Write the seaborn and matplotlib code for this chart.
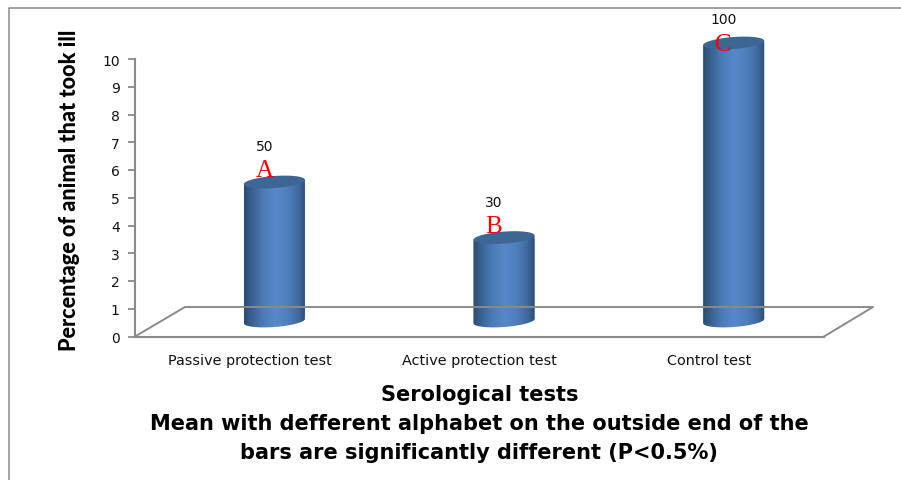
import numpy as np
import pandas as pd
import seaborn as sns
import matplotlib.pyplot as plt
from matplotlib.colors import LinearSegmentedColormap
from matplotlib.lines import Line2D
from matplotlib.patches import Polygon

tests = ['Passive protection test', 'Active protection test', 'Control test']
values = [5, 3, 10]
value_labels = ['50', '30', '100']
letters = ['A', 'B', 'C']
y_ticks = [0, 1, 2, 3, 4, 5, 6, 7, 8, 9, 10]

W, H = 901, 481
GRAY = '#8a8a8a'
PX = 27.8  # pixels per unit on the value axis

sns.set_style('white')
plt.rcParams['font.family'] = ['DejaVu Sans']

fig = plt.figure(figsize=(W / 100, H / 100), dpi=100)

# outer frame, open on the right and at the bottom
fig.add_artist(Line2D([8.5 / W, 8.5 / W, 1], [0, 1 - 9 / H, 1 - 9 / H], color=GRAY, lw=1.1))

# front axes: ticks, category labels
ax = fig.add_axes([135 / W, 1 - 337.5 / H, 689 / W, 277.5 / H])
ax.set_facecolor('none')
df = pd.DataFrame({'test': tests, 'value': values})
sns.barplot(data=df, x='test', y='value', ax=ax, alpha=0)
ax.set_xlim(-0.5, 2.5)
ax.set_ylim(0, 10)
ax.set_yticks(y_ticks)
ax.tick_params(axis='y', length=5, width=1.3, color=GRAY, labelsize=10, pad=6, left=True, labelcolor='#111111')
ax.tick_params(axis='x', length=0, labelsize=10.4, pad=12, labelcolor='#111111')
sns.despine(ax=ax, top=True, right=True)
for s in ['left', 'bottom']:
    ax.spines[s].set_color(GRAY)
    ax.spines[s].set_linewidth(1.5)
ax.set_ylabel('Percentage of animal that took ill', fontfamily='Lato', fontweight='black',
              fontsize=15.6, labelpad=16, y=0.53, color='black')
ax.set_xlabel('Serological tests', fontfamily='DejaVu Sans', fontweight='bold', fontsize=15,
              labelpad=12, color='black')

# floor of the 3D box
floor = [(135, 337.5), (185, 308), (873, 308), (824, 337.5)]
fig.add_artist(Line2D([p[0] / W for p in floor], [1 - p[1] / H for p in floor], color=GRAY, lw=1.4))

# bars sit half way into the floor, so their axes are shifted
top_v, bot_v = 11.5, -1
ax2 = fig.add_axes([159.5 / W, 1 - (322 - bot_v * PX) / H, 689 / W, (top_v - bot_v) * PX / H])
ax2.set_facecolor('none')
sns.barplot(data=df, x='test', y='value', ax=ax2, color='#5585c5', width=0.266, saturation=1)
ax2.set_xlim(-0.5, 2.5)
ax2.set_ylim(bot_v, top_v)
ax2.axis('off')

cyl = LinearSegmentedColormap.from_list('cyl', [(0, '#2b4a72'), (0.12, '#37608f'), (0.32, '#4c7cb8'),
                                                (0.5, '#5787c8'), (0.7, '#4f80bd'), (0.88, '#3f6a9d'),
                                                (1, '#2d4c74')])
grad = np.linspace(0, 1, 256).reshape(1, -1)
ry = 6 / PX
tilt = 2.2 / PX
t = np.linspace(0, 2 * np.pi, 121)
low = np.linspace(np.pi, 2 * np.pi, 61)

for bar, lab, let in zip(ax2.patches, value_labels, letters):
    cx = bar.get_x() + bar.get_width() / 2
    hw = bar.get_width() / 2
    top = bar.get_height()
    # body outline: lower arc of the base, then up to the rim
    bx = cx + hw * np.cos(low)
    by = ry * np.sin(low) + tilt * np.cos(low)
    outline = np.column_stack([bx, by])
    outline = np.vstack([outline, [cx + hw, top + tilt], [cx - hw, top - tilt]])
    clip = Polygon(outline, closed=True, transform=ax2.transData, fc='none', ec='none')
    ax2.add_patch(clip)
    bar.set_clip_path(clip)
    im = ax2.imshow(grad, cmap=cyl, aspect='auto', extent=[cx - hw, cx + hw, bot_v, top + 1], zorder=3)
    im.set_clip_path(clip)
    # top ellipse
    ex = cx + hw * np.cos(t)
    ey = top + ry * np.sin(t) + tilt * np.cos(t)
    ax2.fill(ex, ey, color='#3d6694', lw=0, zorder=4)
    # value and letter, the tallest bar has them pushed down to stay in the figure
    off_lab = -36 if top < 10 else -24
    off_let = -11.5 if top < 10 else 1
    ax2.annotate(lab, (cx, top), xytext=(-10 * 0.72, -off_lab * 0.72), textcoords='offset points',
                 ha='center', va='center', fontsize=10, color='#111111', zorder=5)
    ax2.annotate(let, (cx, top), xytext=(-10 * 0.72, -off_let * 0.72), textcoords='offset points',
                 ha='center', va='center', fontsize=18, color='#ff0000', fontfamily='Liberation Serif', zorder=5)
ax2.set_xlim(-0.5, 2.5)
ax2.set_ylim(bot_v, top_v)

fig.text(479 / W, 1 - 424 / H, 'Mean with defferent alphabet on the outside end of the',
         ha='center', va='center', fontfamily='DejaVu Sans', fontweight='bold', fontsize=15, color='black')
fig.text(479 / W, 1 - 453 / H, 'bars are significantly different (P<0.5%)',
         ha='center', va='center', fontfamily='DejaVu Sans', fontweight='bold', fontsize=15, color='black')

fig.savefig('out.png', dpi=100)
